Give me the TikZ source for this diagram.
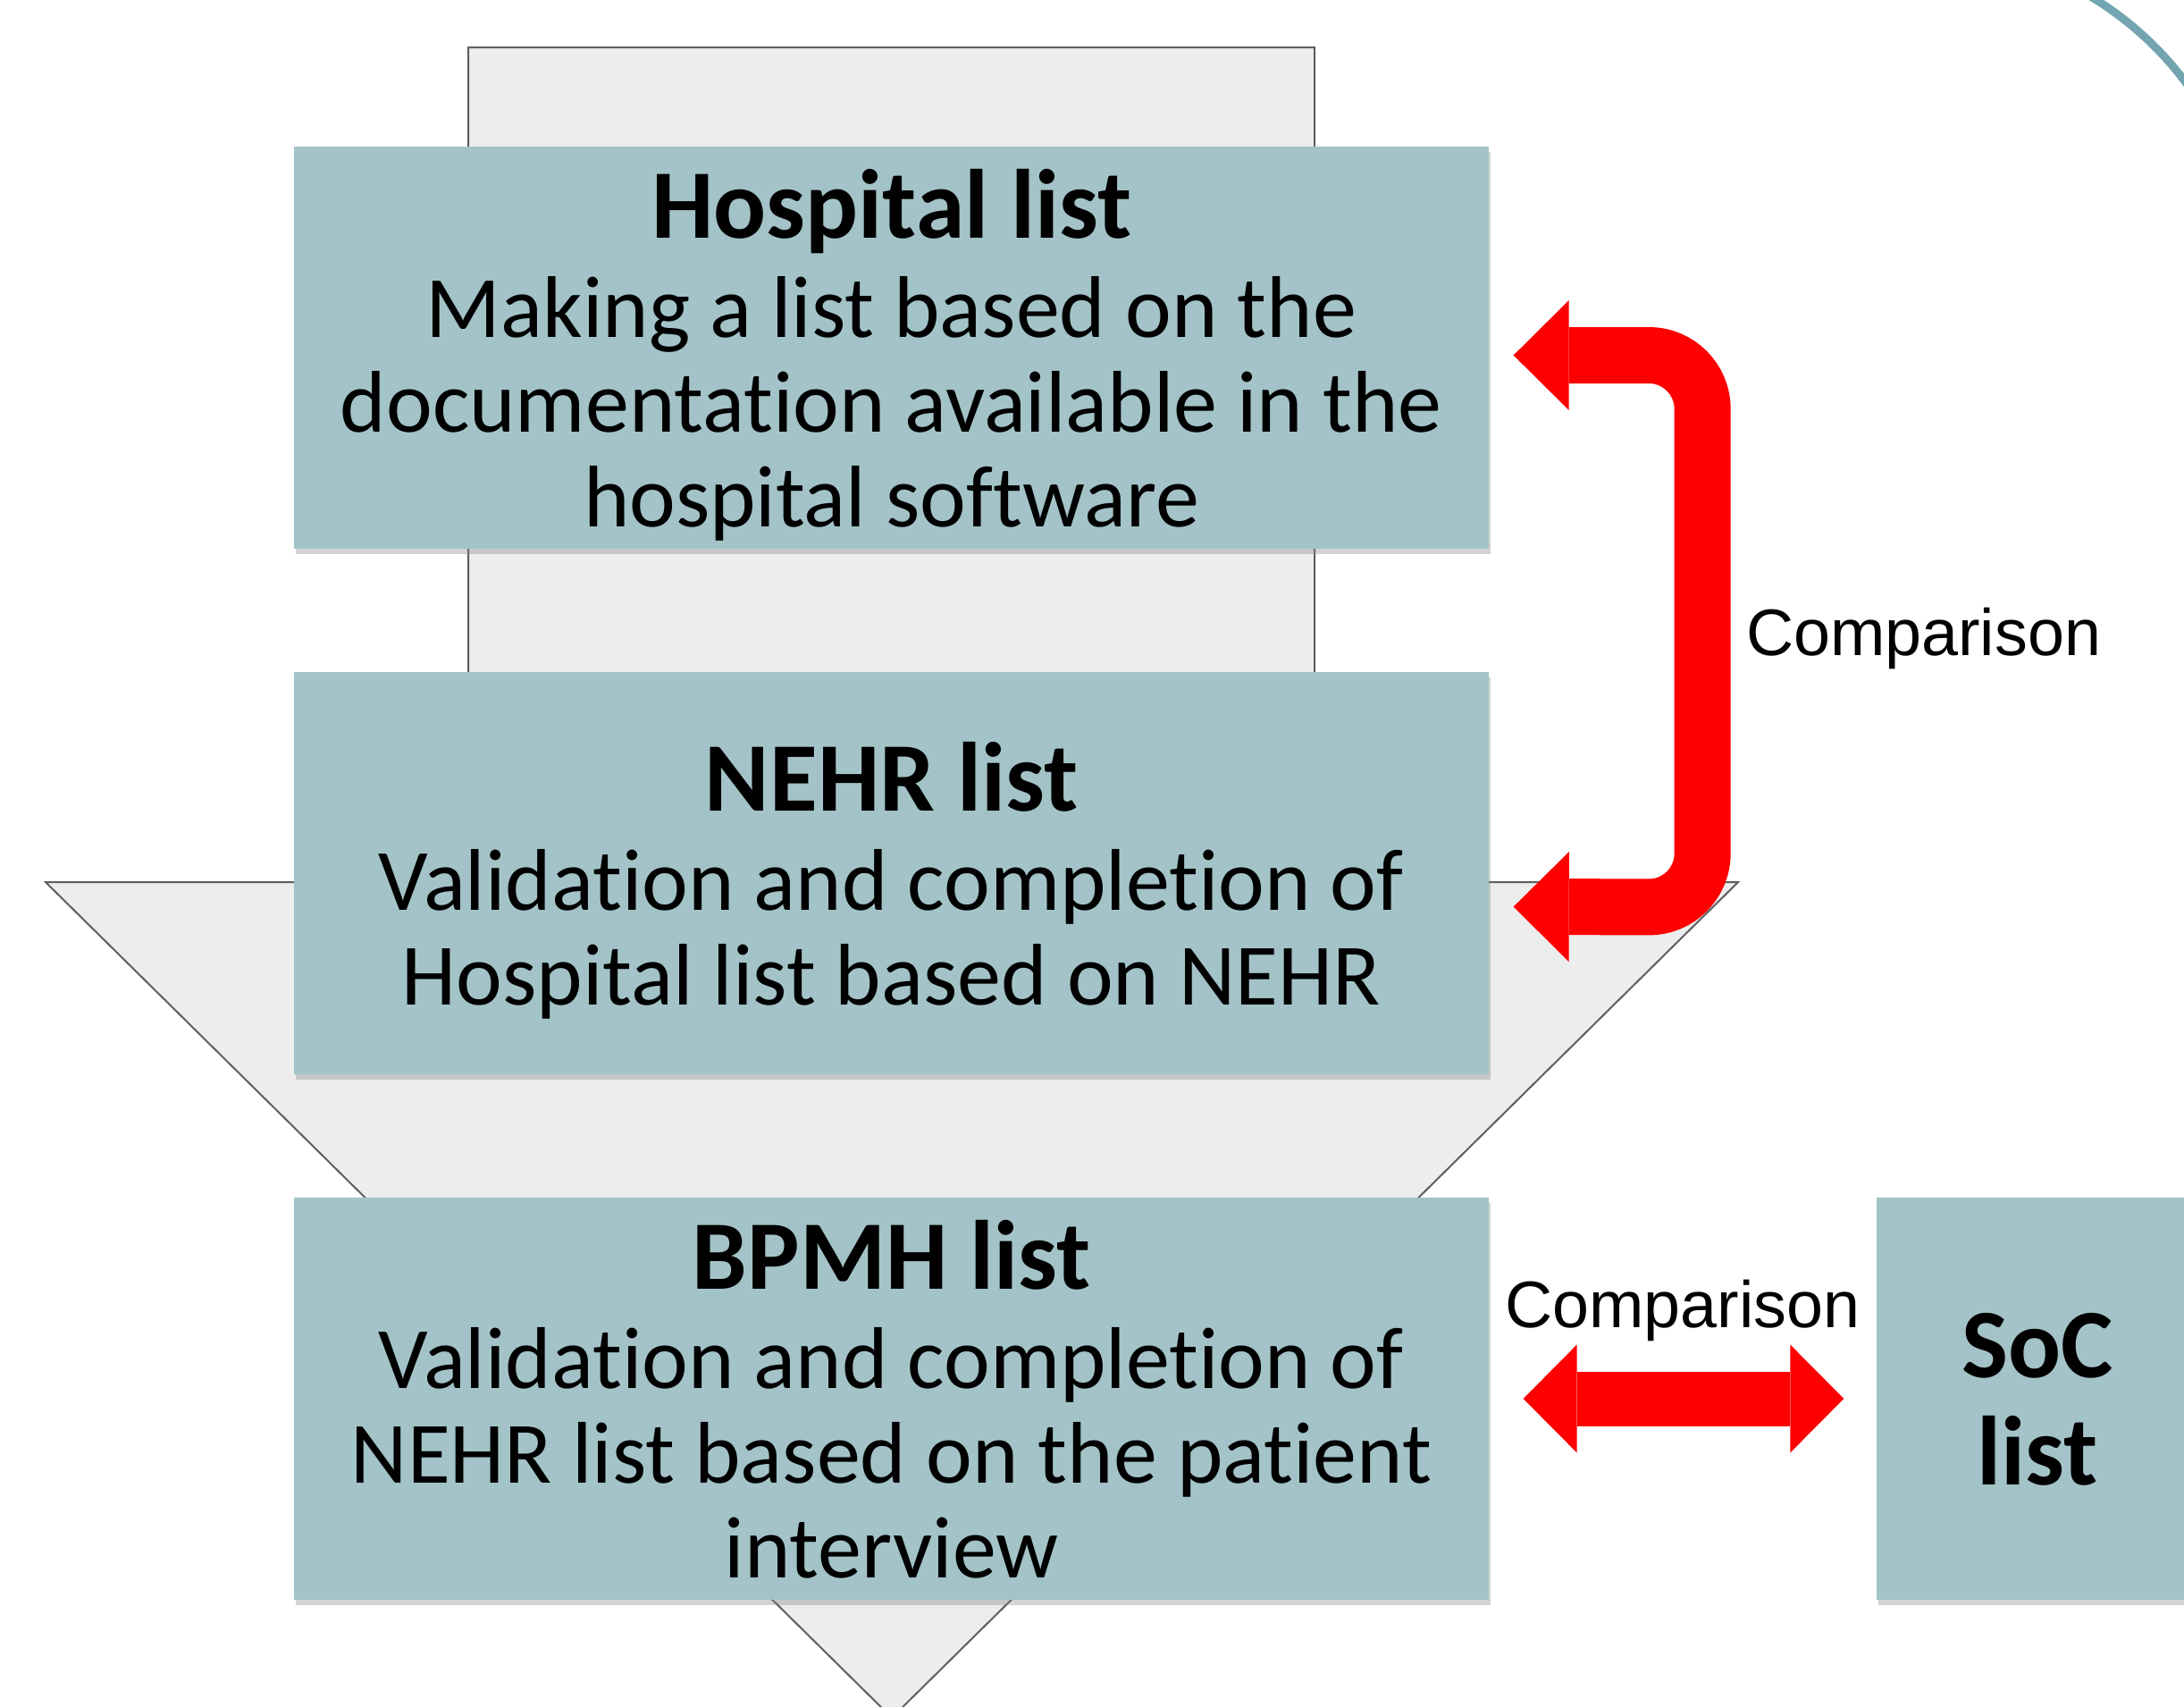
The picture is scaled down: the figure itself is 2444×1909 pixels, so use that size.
\documentclass[tikz,border=0pt]{standalone}
\usepackage{fontspec}
\setmainfont{Carlito}[Ligatures=NoCommon]
\newfontfamily\arialfont{Liberation Sans}
\usetikzlibrary{arrows.meta,shadows,positioning}
\definecolor{boxblue}{HTML}{A3C3C8}
\definecolor{funnelgray}{HTML}{EDEDED}
\definecolor{edgegray}{HTML}{5F5F5F}
\definecolor{arcblue}{HTML}{72A5B0}
\newcommand{\listtitle}[1]{{\fontsize{33}{31.8}\selectfont\bfseries #1}}

\begin{document}
\begin{tikzpicture}[x=0.3pt, y=-0.3pt]
\tikzstyle{listbox}=[rectangle, fill=boxblue, minimum width=401.1pt, minimum height=135pt, align=center, inner sep=0pt, text depth=0pt, node distance=176.4pt, font=\fontsize{29.4}{31.8}\selectfont, drop shadow={shadow xshift=0.6pt, shadow yshift=-1.8pt, opacity=0.35}]
\tikzstyle{socbox}=[listbox, minimum width=108pt, font=\fontsize{33}{36}\selectfont\bfseries]
\tikzstyle{funnel}=[fill=funnelgray, draw=edgegray, line width=0.6pt, line join=miter]
\tikzstyle{bracket}=[red, line width=18.9pt, rounded corners=18pt, {Triangle[width=36.9pt, length=18.6pt, line width=0pt]}-{Triangle[width=36.9pt, length=18.6pt, line width=0pt]}]
\tikzstyle{compare}=[red, line width=18.3pt, shorten <=11.4pt, shorten >=10.8pt, {Triangle[width=36.3pt, length=18pt, line width=0pt]}-{Triangle[width=36.3pt, length=18pt, line width=0pt]}]
\tikzstyle{cmplabel}=[black, inner sep=0pt, font=\arialfont\fontsize{22.1}{26}\selectfont]

  \useasboundingbox (0,0) rectangle (2444,1909);
  \clip (0,0) rectangle (2444,1909);

  \draw[funnel] (524,53) -- (1471,53) -- (1471,987) -- (1945,987) -- (998,1922) -- (51,987) -- (524,987) -- cycle;
  \draw[arcblue, line width=2.7pt] (2148,315) ++(-64:372) arc (-64:-26:372);

  \node[listbox] (hosp) at (997.5,389) {\listtitle{Hospital list}\\[1.5pt] Making a list based on the\\ documentation available in the\\ hospital software};
  \node[listbox] (nehr) [below of =hosp] {\listtitle{NEHR list}\\[1.5pt] Validation and completion of\\ Hospital list based on NEHR};
  \node[listbox] (bpmh) [below of =nehr] {\listtitle{BPMH list}\\[1.5pt] Validation and completion of\\ NEHR list based on the patient\\ interview};
  \node[socbox]  (soc)  [right of =bpmh, xshift=208.35pt] {SoC\\ list};

  \draw[bracket] ([xshift=8.1pt, yshift=-2.55pt]hosp.east) -- ++(211.5,0) -- node[cmplabel, anchor=west, xshift=5.2pt, yshift=-2.4pt] (cmptop) {Comparison} ++(0,617.5) -- ([xshift=8.1pt, yshift=-11.25pt]nehr.east);
  \path (bpmh) edge [compare] node [cmplabel, anchor=base, yshift=23.85pt] (cmpbot) {Comparison} (soc);

\end{tikzpicture}
\end{document}
